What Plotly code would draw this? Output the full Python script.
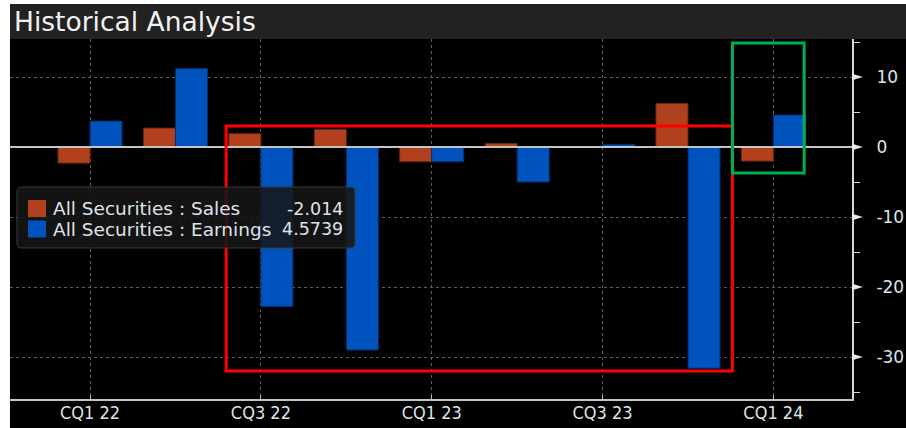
import plotly.graph_objects as go

quarters = ["CQ1 22", "CQ2 22", "CQ3 22", "CQ4 22", "CQ1 23", "CQ2 23", "CQ3 23", "CQ4 23", "CQ1 24"]
sales = [-2.3, 2.7, 1.9, 2.5, -2.1, 0.5, 0.0, 6.2, -2.014]
earnings = [3.7, 11.2, -22.8, -29.0, -2.1, -5.0, 0.35, -31.6, 4.5739]
tick_idx = [0, 2, 4, 6, 8]
tick_labels = [quarters[i] for i in tick_idx]
y_ticks = [10, 0, -10, -20, -30]
y_tick_text = [str(v) for v in y_ticks]

W, H = 906, 428
L, R, T, B = 10, 54, 39, 29
PW, PH = W - L - R, H - T - B


def px_x(px):
    return (px - L) / PW


def px_y(py):
    return (H - B - py) / PH


x = list(range(len(quarters)))
ORANGE = "#b3401d"
BLUE = "#0052bd"
TXT = "#dde3ec"
FONT = "DejaVu Sans"

fig = go.Figure()
fig.add_bar(x=x, y=sales, name="All Securities : Sales", marker=dict(color=ORANGE, line=dict(color="#6e2410", width=1)))
fig.add_bar(x=x, y=earnings, name="All Securities : Earnings", marker=dict(color=BLUE, line=dict(color="#00306e", width=1)))

shapes = []
shapes.append(dict(type="rect", xref="paper", yref="paper", x0=px_x(0), x1=px_x(L), y0=px_y(H), y1=px_y(0),
                   fillcolor="white", line=dict(width=0), layer="below"))
shapes.append(dict(type="rect", xref="paper", yref="paper", x0=px_x(0), x1=px_x(W), y0=px_y(4), y1=px_y(0),
                   fillcolor="white", line=dict(width=0), layer="below"))
shapes.append(dict(type="rect", xref="paper", yref="paper", x0=px_x(L), x1=px_x(W), y0=px_y(39), y1=px_y(4),
                   fillcolor="#222222", line=dict(width=0), layer="below"))
shapes.append(dict(type="line", xref="paper", yref="y", x0=0, x1=1, y0=0, y1=0,
                   line=dict(color="#c4c4c4", width=2), layer="above"))
for v in y_ticks:
    shapes.append(dict(type="path", xref="paper", yref="y",
                       path=f"M {px_x(852)},{v + 0.45} L {px_x(863)},{v} L {px_x(852)},{v - 0.45} Z",
                       fillcolor="#e8e8e8", line=dict(width=0), layer="above"))
shapes.append(dict(type="rect", xref="x", yref="y", x0=1.593, x1=7.52, y0=-32.0, y1=3.0,
                   line=dict(color="#ff0000", width=3), fillcolor="rgba(0,0,0,0)", layer="above"))
shapes.append(dict(type="rect", xref="x", yref="y", x0=7.52, x1=8.36, y0=-3.7, y1=14.86,
                   line=dict(color="#00b050", width=3), fillcolor="rgba(0,0,0,0)", layer="above"))

lx0, lx1, ly0, ly1 = 17, 355, 187, 248
r = 5
path = (f"M {px_x(lx0 + r)},{px_y(ly0)} L {px_x(lx1 - r)},{px_y(ly0)} "
        f"Q {px_x(lx1)},{px_y(ly0)} {px_x(lx1)},{px_y(ly0 + r)} "
        f"L {px_x(lx1)},{px_y(ly1 - r)} Q {px_x(lx1)},{px_y(ly1)} {px_x(lx1 - r)},{px_y(ly1)} "
        f"L {px_x(lx0 + r)},{px_y(ly1)} Q {px_x(lx0)},{px_y(ly1)} {px_x(lx0)},{px_y(ly1 - r)} "
        f"L {px_x(lx0)},{px_y(ly0 + r)} Q {px_x(lx0)},{px_y(ly0)} {px_x(lx0 + r)},{px_y(ly0)} Z")
shapes.append(dict(type="path", xref="paper", yref="paper", path=path,
                   fillcolor="rgba(22,22,22,0.85)", line=dict(color="#3a3a3a", width=1), layer="above"))
rows = [(208.5, ORANGE, "All Securities : Sales", sales[-1]),
        (229, BLUE, "All Securities : Earnings", earnings[-1])]
annotations = []
for cy, col, name, val in rows:
    shapes.append(dict(type="rect", xref="paper", yref="paper", x0=px_x(28), x1=px_x(46),
                       y0=px_y(cy + 8.5), y1=px_y(cy - 8.5), fillcolor=col, line=dict(width=0), layer="above"))
    annotations.append(dict(xref="paper", yref="paper", x=px_x(51), y=px_y(cy), xanchor="left", yanchor="middle",
                            text=name, showarrow=False, font=dict(family=FONT, size=18.5, color=TXT)))
    annotations.append(dict(xref="paper", yref="paper", x=px_x(345), y=px_y(cy), xanchor="right", yanchor="middle",
                            text=f"{val:g}", showarrow=False, font=dict(family=FONT, size=17.5, color=TXT)))

annotations.append(dict(xref="paper", yref="paper", x=px_x(12), y=px_y(21.5), xanchor="left", yanchor="middle",
                        text="Historical Analysis", showarrow=False,
                        font=dict(family=FONT, size=26.5, color="#f2f2f2")))

fig.update_layout(
    width=W, height=H,
    margin=dict(l=L, r=R, t=T, b=B, pad=0, autoexpand=False),
    paper_bgcolor="black", plot_bgcolor="black",
    barmode="group", bargap=0.25, bargroupgap=0,
    showlegend=False,
    shapes=shapes, annotations=annotations,
    xaxis=dict(range=[-0.937, 8.92], tickmode="array", tickvals=tick_idx, ticktext=tick_labels,
               automargin=False,
               showgrid=True, gridcolor="#5c5c5c", griddash="dot", gridwidth=1,
               showline=True, linecolor="#c4c4c4", linewidth=2,
               ticks="inside", ticklen=4, tickcolor="#c4c4c4", ticklabelstandoff=-4,
               tickfont=dict(family="Liberation Sans Narrow, DejaVu Sans Condensed, Roboto", size=18, color=TXT),
               zeroline=False),
    yaxis=dict(side="right", range=[-36.0, 15.43], tickmode="array", tickvals=y_ticks, ticktext=y_tick_text,
               automargin=False,
               showgrid=True, gridcolor="#5c5c5c", griddash="dot", gridwidth=1,
               zeroline=False, showline=True, linecolor="#d8d8d8", linewidth=2,
               ticks="", ticklabelstandoff=19,
               minor=dict(ticks="outside", ticklen=6, tickcolor="#d8d8d8", tickvals=[15, 5, -5, -15, -25, -35], showgrid=False),
               tickfont=dict(family=FONT, size=17, color=TXT)),
)

fig.write_html("out.html", config={"displayModeBar": False},
               post_script="document.body.style.margin='0';document.body.style.overflow='hidden';")
